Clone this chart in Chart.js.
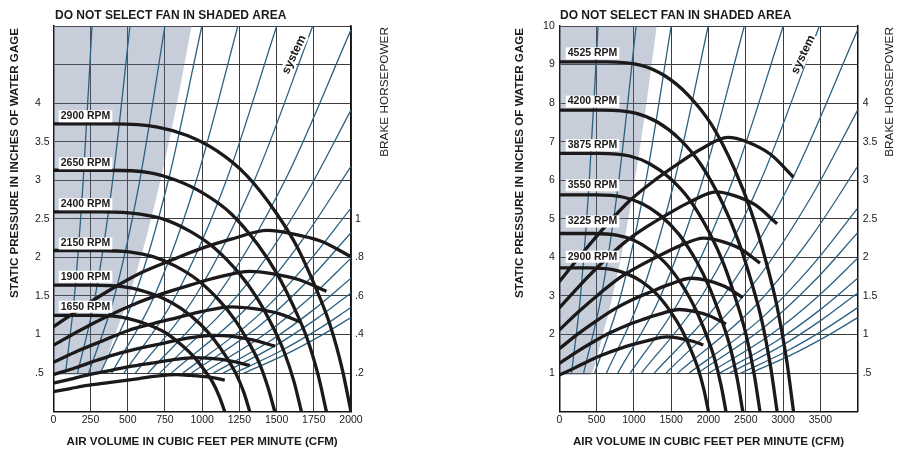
<!DOCTYPE html>
<html>
<head>
<meta charset="utf-8">
<script src="https://cdn.jsdelivr.net/npm/chart.js@4.4.1/dist/chart.umd.min.js"></script>
<style>
    body { margin: 0; background: #fff; }
    #sheets { position: relative; width: 897px; height: 449px; }
    #leftSheet { position: absolute; left: 0; top: 0; }
    #rightSheet { position: absolute; left: 450px; top: 0; }
</style>
</head>
<body>
<div id="sheets">
    <canvas id="leftSheet" width="440" height="449"></canvas>
    <canvas id="rightSheet" width="447" height="449"></canvas>
</div>
<script>
// ---- left sheet: CFM 0-2000, static pressure 0-5 in. wg, BHP 0-2
var leftRpm = ['2900 RPM', '2650 RPM', '2400 RPM', '2150 RPM', '1900 RPM', '1650 RPM'];
var leftRpmAt = [[50, 3.83], [50, 3.22], [50, 2.69], [50, 2.18], [50, 1.75], [50, 1.36]];
var leftFanCfm = [
    [0, 400, 700, 900, 1100, 1300, 1500, 1640, 1760, 1860, 1940, 2000],
    [0, 367, 642, 826, 1009, 1193, 1376, 1505, 1615, 1707, 1780, 1835],
    [0, 333, 583, 750, 917, 1084, 1250, 1367, 1467, 1550, 1617, 1667],
    [0, 298, 521, 670, 818, 967, 1116, 1220, 1309, 1384, 1443, 1488],
    [0, 264, 462, 594, 726, 858, 990, 1082, 1162, 1228, 1280, 1320],
    [0, 230, 403, 518, 634, 749, 864, 945, 1014, 1071, 1117, 1152]
];
var leftFanSp = [
    [3.73, 3.73, 3.69, 3.58, 3.38, 3.06, 2.57, 2.13, 1.62, 1.12, 0.56, 0],
    [3.13, 3.13, 3.10, 3.00, 2.83, 2.57, 2.16, 1.78, 1.36, 0.94, 0.47, 0],
    [2.59, 2.59, 2.56, 2.49, 2.34, 2.12, 1.79, 1.48, 1.13, 0.78, 0.39, 0],
    [2.09, 2.09, 2.07, 2.01, 1.89, 1.71, 1.44, 1.19, 0.91, 0.63, 0.31, 0],
    [1.64, 1.64, 1.62, 1.57, 1.48, 1.34, 1.13, 0.93, 0.71, 0.49, 0.25, 0],
    [1.25, 1.25, 1.24, 1.20, 1.13, 1.03, 0.86, 0.71, 0.54, 0.38, 0.19, 0]
];
// brake horsepower curves, read against the pressure grid
var leftBhpCfm = [
    [0, 200, 400, 600, 800, 1000, 1200, 1440, 1600, 1800, 2000],
    [0, 184, 367, 551, 734, 918, 1101, 1321, 1468, 1652, 1835],
    [0, 167, 333, 500, 667, 834, 1000, 1200, 1334, 1500, 1667],
    [0, 149, 298, 446, 595, 744, 893, 1071, 1190, 1339, 1488],
    [0, 132, 264, 396, 528, 660, 792, 950, 1056, 1188, 1320],
    [0, 115, 230, 346, 461, 576, 691, 829, 922, 1037, 1152]
];
var leftBhpSp = [
    [1.10, 1.36, 1.60, 1.81, 1.97, 2.12, 2.24, 2.35, 2.31, 2.21, 2.01],
    [0.86, 1.06, 1.24, 1.40, 1.53, 1.64, 1.74, 1.82, 1.79, 1.71, 1.56],
    [0.64, 0.79, 0.92, 1.05, 1.14, 1.22, 1.30, 1.36, 1.34, 1.28, 1.16],
    [0.48, 0.57, 0.67, 0.76, 0.83, 0.89, 0.95, 0.99, 0.98, 0.93, 0.85],
    [0.37, 0.43, 0.49, 0.54, 0.59, 0.63, 0.67, 0.70, 0.69, 0.66, 0.60],
    [0.26, 0.30, 0.34, 0.37, 0.40, 0.43, 0.46, 0.48, 0.47, 0.45, 0.41]
];
var leftShadeCfm = [0, 288, 415, 588, 720, 831, 929];
var leftShadeSp = [0.48, 0.48, 1, 2, 3, 4, 5];
var leftSystemTag = [1618, 4.63];
var leftSpTicks = [0.5, 1, 1.5, 2, 2.5, 3, 3.5, 4];
var leftSpLabels = ['.5', '1', '1.5', '2', '2.5', '3', '3.5', '4'];
var leftBhpTicks = [0.2, 0.4, 0.6, 0.8, 1];
var leftBhpLabels = ['.2', '.4', '.6', '.8', '1'];
var leftCfmTicks = [0, 250, 500, 750, 1000, 1250, 1500, 1750, 2000];

// ---- right sheet: CFM 0-4000, static pressure 0-10 in. wg, BHP 0-5
var rightRpm = ['4525 RPM', '4200 RPM', '3875 RPM', '3550 RPM', '3225 RPM', '2900 RPM'];
var rightRpmAt = [[113, 9.29], [113, 8.04], [113, 6.91], [113, 5.87], [113, 4.93], [113, 4.02]];
var rightFanCfm = [
    [0, 628, 1099, 1413, 1727, 2041, 2355, 2575, 2763, 2920, 3046, 3140],
    [0, 584, 1022, 1314, 1606, 1898, 2190, 2394, 2570, 2716, 2832, 2920],
    [0, 538, 942, 1211, 1480, 1749, 2018, 2206, 2367, 2502, 2609, 2690],
    [0, 492, 861, 1107, 1353, 1599, 1845, 2017, 2165, 2288, 2386, 2460],
    [0, 447, 782, 1006, 1229, 1453, 1676, 1833, 1967, 2079, 2168, 2235],
    [0, 400, 700, 900, 1100, 1300, 1500, 1640, 1760, 1860, 1940, 2000]
];
var rightFanSp = [
    [9.07, 9.07, 8.98, 8.71, 8.21, 7.44, 6.26, 5.17, 3.95, 2.72, 1.36, 0],
    [7.82, 7.82, 7.74, 7.51, 7.08, 6.41, 5.40, 4.46, 3.40, 2.35, 1.17, 0],
    [6.70, 6.70, 6.63, 6.43, 6.06, 5.49, 4.62, 3.82, 2.91, 2.01, 1.01, 0],
    [5.62, 5.62, 5.56, 5.40, 5.09, 4.61, 3.88, 3.20, 2.44, 1.69, 0.84, 0],
    [4.62, 4.62, 4.57, 4.44, 4.18, 3.79, 3.19, 2.63, 2.01, 1.39, 0.69, 0],
    [3.73, 3.73, 3.69, 3.58, 3.38, 3.06, 2.57, 2.13, 1.62, 1.12, 0.56, 0]
];
var rightBhpCfm = [
    [0, 314, 628, 942, 1256, 1570, 1884, 2261, 2512, 2826, 3140],
    [0, 292, 584, 876, 1168, 1460, 1752, 2102, 2336, 2628, 2920],
    [0, 269, 538, 807, 1076, 1345, 1614, 1937, 2152, 2421, 2690],
    [0, 246, 492, 738, 984, 1230, 1476, 1771, 1968, 2214, 2460],
    [0, 224, 447, 671, 894, 1118, 1341, 1609, 1788, 2012, 2235],
    [0, 200, 400, 600, 800, 1000, 1200, 1440, 1600, 1800, 1930]
];
var rightBhpSp = [
    [3.37, 4.12, 4.83, 5.47, 5.97, 6.40, 6.79, 7.11, 7.00, 6.68, 6.08],
    [2.69, 3.31, 3.88, 4.39, 4.79, 5.13, 5.44, 5.70, 5.61, 5.36, 4.87],
    [2.12, 2.61, 3.06, 3.47, 3.78, 4.05, 4.30, 4.50, 4.43, 4.23, 3.85],
    [1.63, 2.01, 2.35, 2.66, 2.91, 3.11, 3.30, 3.46, 3.41, 3.25, 2.96],
    [1.25, 1.54, 1.80, 2.04, 2.23, 2.39, 2.53, 2.65, 2.61, 2.49, 2.27],
    [0.95, 1.13, 1.32, 1.49, 1.63, 1.75, 1.85, 1.94, 1.91, 1.82, 1.73]
];
var rightShadeCfm = [0, 403, 584, 826, 1012, 1168, 1306];
var rightShadeSp = [0.95, 0.95, 2, 4, 6, 8, 10];
var rightSystemTag = [3271, 9.26];
var rightSpTicks = [1, 2, 3, 4, 5, 6, 7, 8, 9, 10];
var rightSpLabels = ['1', '2', '3', '4', '5', '6', '7', '8', '9', '10'];
var rightBhpTicks = [0.5, 1, 1.5, 2, 2.5, 3, 3.5, 4];
var rightBhpLabels = ['.5', '1', '1.5', '2', '2.5', '3', '3.5', '4'];
var rightCfmTicks = [0, 500, 1000, 1500, 2000, 2500, 3000, 3500];

// ---- blue "system" curves; the same printed overlay on both sheets,
// read in left-sheet units (CFM 0-2000, in. wg 0-5), cut off at .5 in.
var systemCfm = [
    [82, 142, 201, 260], [163, 282, 399, 515], [237, 411, 581, 750], [316, 547, 773, 998],
    [392, 679, 961, 1240], [475, 822, 1163, 1501], [551, 955, 1351, 1743], [636, 1101, 1557, 2000],
    [715, 1295, 1684, 2000], [793, 1322, 1697, 2000], [870, 1354, 1710, 2000], [928, 1383, 1717, 2000],
    [1002, 1418, 1737, 2000], [1075, 1451, 1747, 2000], [1140, 1486, 1758, 2000], [1217, 1520, 1781, 2000],
    [1280, 1558, 1792, 2000]
];
var systemSp = [
    [0.5, 1.5, 3, 5], [0.5, 1.5, 3, 5], [0.5, 1.5, 3, 5], [0.5, 1.5, 3, 5],
    [0.5, 1.5, 3, 5], [0.5, 1.5, 3, 5], [0.5, 1.5, 3, 5], [0.5, 1.5, 3, 4.95],
    [0.5, 1.64, 2.77, 3.91], [0.5, 1.39, 2.29, 3.18], [0.5, 1.21, 1.93, 2.64], [0.5, 1.11, 1.71, 2.32],
    [0.5, 1.0, 1.5, 1.99], [0.5, 0.91, 1.32, 1.73], [0.5, 0.85, 1.19, 1.54], [0.5, 0.78, 1.07, 1.35],
    [0.5, 0.74, 0.98, 1.22]
];

var face = '"Liberation Sans", Arial, Helvetica, sans-serif';
var ink = '#1b1919';
var blue = '#2b6180';

Chart.defaults.font.family = face;
Chart.defaults.color = ink;

function pts(xs, ys) {
    return xs.map(function (x, i) { return { x: x, y: ys[i] }; });
}

function pick(ticks, labels) {
    return function (v) {
        for (var i = 0; i < ticks.length; i++) {
            if (Math.abs(v - ticks[i]) < 1e-6) return labels[i];
        }
        return '';
    };
}

function sheet(canvasId, s) {
    var datasets = [];
    datasets.push({
        data: pts(s.shadeCfm, s.shadeSp), fill: 'end', cubicInterpolationMode: 'monotone',
        backgroundColor: 'rgba(95,115,150,0.35)', borderWidth: 0, pointRadius: 0, order: 3
    });
    systemCfm.forEach(function (c, i) {
        datasets.push({
            data: pts(c, systemSp[i]), borderColor: blue, borderWidth: 1.3, pointRadius: 0,
            cubicInterpolationMode: 'monotone', fill: false, order: 2,
            xAxisID: s.sysX, yAxisID: s.sysY
        });
    });
    s.fanCfm.forEach(function (c, i) {
        datasets.push({
            data: pts(c, s.fanSp[i]), borderColor: ink, borderWidth: 3.3, pointRadius: 0,
            cubicInterpolationMode: 'monotone', fill: false, order: 1
        });
    });
    s.bhpCfm.forEach(function (c, i) {
        datasets.push({
            data: pts(c, s.bhpSp[i]), borderColor: ink, borderWidth: 3.3, pointRadius: 0,
            cubicInterpolationMode: 'monotone', fill: false, order: 1
        });
    });

    var scales = {
        x: {
            type: 'linear', position: 'bottom', min: 0, max: s.cfmMax,
            grid: { color: '#3c3c3c', lineWidth: 1, drawTicks: false },
            border: { display: true, color: '#111', width: 1.5 },
            ticks: { stepSize: s.cfmStep, autoSkip: false, maxRotation: 0, padding: 2,
                font: { size: 10.5 }, callback: pick(s.cfmTicks, s.cfmTicks.map(String)) },
            title: { display: true, text: 'AIR VOLUME IN CUBIC FEET PER MINUTE (CFM)',
                font: { size: 11.6, weight: 'bold' }, padding: { top: 0, bottom: 0 } },
            afterFit: function (sc) { sc.height = 37.3; }
        },
        y: {
            type: 'linear', position: 'left', min: 0, max: s.spMax,
            grid: { color: '#3c3c3c', lineWidth: 1, drawTicks: false },
            border: { display: true, color: '#111', width: 1.5 },
            ticks: { stepSize: s.spStep, autoSkip: false, padding: s.yPad, crossAlign: s.yAlign,
                font: { size: 10.5 }, callback: pick(s.spTicks, s.spLabels) },
            afterFit: function (sc) { sc.width = s.yWidth; }
        },
        bhp: {
            type: 'linear', position: 'right', min: 0, max: s.bhpMax,
            grid: { display: false, drawTicks: false },
            border: { display: true, color: '#111', width: 1.5 },
            ticks: { stepSize: s.bhpStep, autoSkip: false, padding: s.bhpPad, crossAlign: 'near',
                font: { size: 10.5 }, callback: pick(s.bhpTicks, s.bhpLabels) },
            afterFit: function (sc) { sc.width = s.bhpWidth; }
        }
    };
    if (s.sysX !== 'x') {
        scales[s.sysX] = { type: 'linear', display: false, position: 'bottom', min: 0, max: 2000 };
        scales[s.sysY] = { type: 'linear', display: false, position: 'left', min: 0, max: 5 };
    }

    var sheetText = {
        id: 'sheetText',
        afterDraw: function (chart) {
            var ctx = chart.ctx, a = chart.chartArea;
            var xs = chart.scales.x, ys = chart.scales.y;
            ctx.save();
            ctx.fillStyle = ink;
            ctx.textBaseline = 'middle';
            ctx.textAlign = 'left';
            ctx.font = 'bold 12px ' + face;
            ctx.fillText('DO NOT SELECT FAN IN SHADED AREA', a.left + s.headDx, 15.5);

            ctx.font = 'bold 10.5px ' + face;
            s.rpm.forEach(function (t, i) {
                var x = xs.getPixelForValue(s.rpmAt[i][0]);
                var y = ys.getPixelForValue(s.rpmAt[i][1]);
                var w = ctx.measureText(t).width;
                ctx.fillStyle = '#fff';
                ctx.fillRect(x - 2, y - 6, w + 4, 12);
                ctx.fillStyle = ink;
                ctx.fillText(t, x, y);
            });

            ctx.save();
            ctx.translate(xs.getPixelForValue(s.sysTag[0]), ys.getPixelForValue(s.sysTag[1]));
            ctx.rotate(-64.6 * Math.PI / 180);
            ctx.font = 'bold 12px ' + face;
            ctx.textAlign = 'center';
            var sw = ctx.measureText('system').width;
            ctx.fillStyle = '#fff';
            ctx.fillRect(-sw / 2 - 1, -6, sw + 2, 12);
            ctx.fillStyle = ink;
            ctx.fillText('system', 0, 0);
            ctx.restore();

            // pressure title, top aligned like the printed sheet
            ctx.save();
            ctx.translate(a.left - s.yTitleDx, a.top + 2);
            ctx.rotate(-Math.PI / 2);
            ctx.textAlign = 'right';
            ctx.font = 'bold 11.6px ' + face;
            ctx.fillText('STATIC PRESSURE IN INCHES OF WATER GAGE', 0, 0);
            ctx.restore();

            ctx.save();
            ctx.translate(a.right + s.bhpTitleDx, a.top + 1);
            ctx.rotate(-Math.PI / 2);
            ctx.textAlign = 'right';
            ctx.font = '11.8px ' + face;
            ctx.fillText('BRAKE HORSEPOWER', 0, 0);
            ctx.restore();
            ctx.restore();
        }
    };

    return new Chart(document.getElementById(canvasId), {
        type: 'line',
        data: { datasets: datasets },
        options: {
            responsive: false,
            animation: false,
            events: [],
            layout: { padding: { left: s.padLeft, right: 0, top: 26, bottom: 0 } },
            plugins: { legend: { display: false }, tooltip: { enabled: false } },
            scales: scales
        },
        plugins: [sheetText]
    });
}

sheet('leftSheet', {
    rpm: leftRpm, rpmAt: leftRpmAt, fanCfm: leftFanCfm, fanSp: leftFanSp,
    bhpCfm: leftBhpCfm, bhpSp: leftBhpSp, shadeCfm: leftShadeCfm, shadeSp: leftShadeSp,
    sysTag: leftSystemTag, sysX: 'x', sysY: 'y',
    cfmMax: 2000, cfmStep: 250, cfmTicks: leftCfmTicks,
    spMax: 5, spStep: 0.5, spTicks: leftSpTicks, spLabels: leftSpLabels,
    bhpMax: 2, bhpStep: 0.2, bhpTicks: leftBhpTicks, bhpLabels: leftBhpLabels,
    padLeft: 35, yWidth: 18.3, yPad: 3, yAlign: 'far', bhpWidth: 89, bhpPad: 4,
    headDx: 1.7, bhpTitleDx: 34, yTitleDx: 38.3
});

sheet('rightSheet', {
    rpm: rightRpm, rpmAt: rightRpmAt, fanCfm: rightFanCfm, fanSp: rightFanSp,
    bhpCfm: rightBhpCfm, bhpSp: rightBhpSp, shadeCfm: rightShadeCfm, shadeSp: rightShadeSp,
    sysTag: rightSystemTag, sysX: 'xs', sysY: 'ys',
    cfmMax: 4000, cfmStep: 500, cfmTicks: rightCfmTicks,
    spMax: 10, spStep: 1, spTicks: rightSpTicks, spLabels: rightSpLabels,
    bhpMax: 5, bhpStep: 0.5, bhpTicks: rightBhpTicks, bhpLabels: rightBhpLabels,
    padLeft: 80, yWidth: 29.3, yPad: 4.5, yAlign: 'near', bhpWidth: 39.3, bhpPad: 5,
    headDx: 0.7, bhpTitleDx: 32.3, yTitleDx: 39.3
});
</script>
</body>
</html>
